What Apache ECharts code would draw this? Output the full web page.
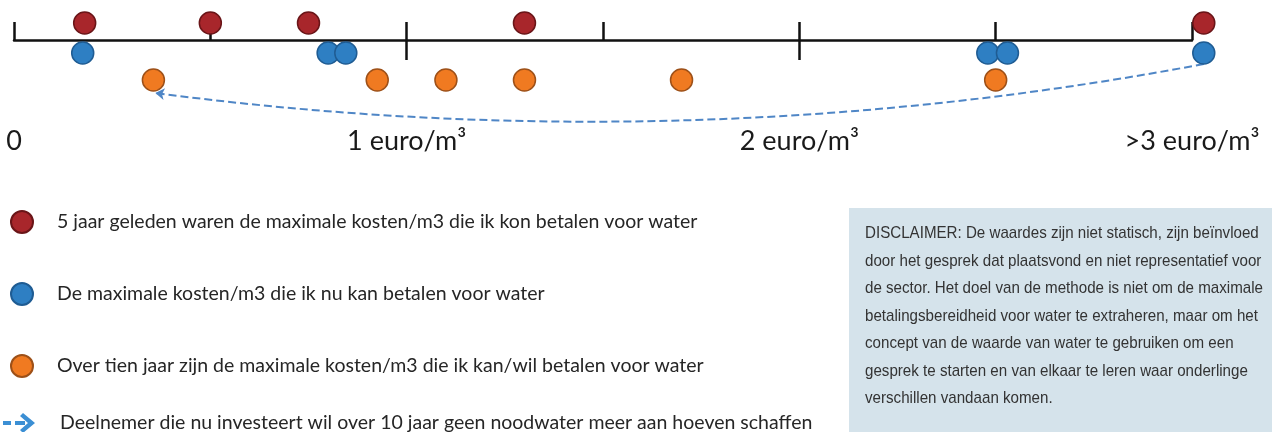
<!DOCTYPE html>
<html>
<head>
<meta charset="utf-8">
<script src="https://cdn.jsdelivr.net/npm/echarts@6/dist/echarts.min.js"></script>
<style>
html,body{margin:0;padding:0;background:#fff;}
#chart{width:1272px;height:432px;}
</style>
</head>
<body>
<div id="chart"></div>
<script>
// euro per m3, one dot per participant
var vijfJaarGeleden = [0.18, 0.50, 0.75, 1.30, 3.03];
var nu = [0.175, 0.80, 0.845, 2.48, 2.53, 3.03];
var overTienJaar = [0.355, 0.925, 1.10, 1.30, 1.70, 2.50];

var tickValues = [0, 1, 2, 3];
var tickLabels = ['0', '1 euro/m³', '2 euro/m³', '>3 euro/m³'];

var seriesNames = [
	'5 jaar geleden waren de maximale kosten/m3 die ik kon betalen voor water',
	'De maximale kosten/m3 die ik nu kan betalen voor water',
	'Over tien jaar zijn de maximale kosten/m3 die ik kan/wil betalen voor water',
	'Deelnemer die nu investeert wil over 10 jaar geen noodwater meer aan hoeven schaffen'
];

// verplaatsing van de ene deelnemer: nu (>3) -> over tien jaar
var pijlVan = [3.03, -2.4];
var pijlNaar = [0.36, -5.3];

var disclaimer = [
	'DISCLAIMER: De waardes zijn niet statisch, zijn beïnvloed',
	'door het gesprek dat plaatsvond en niet representatief voor',
	'de sector. Het doel van de methode is niet om de maximale',
	'betalingsbereidheid voor water te extraheren, maar om het',
	'concept van de waarde van water te gebruiken om een',
	'gesprek te starten en van elkaar te leren waar onderlinge',
	'verschillen vandaan komen.'
];

// rij-hoogtes (boven / onder de as)
var rijRood = 1.7, rijBlauw = -1.3, rijOranje = -4.0;

function punten(arr, rij){
	var out = [];
	for(var i=0;i<arr.length;i++){
		out.push([arr[i], rij]);
	}
	return out;
}

// disclaimer font is condensed; squeeze a normal sans to the same width
var dFont = '17px "Liberation Sans", Arial, sans-serif';
var ctx = document.createElement('canvas').getContext('2d');
ctx.font = dFont;
var breedste = 0;
disclaimer.forEach(function(r){ breedste = Math.max(breedste, ctx.measureText(r).width); });
var dSchaal = 398 / breedste;

var legendText = {fontSize: 19.5, lineHeight: 22, color: '#262626', fontFamily: 'Lato', padding: [0, 0, 0, 12]};

var myChart = echarts.init(document.getElementById('chart'));

var option = {
	animation: false,
	textStyle: {fontFamily: 'Lato'},
	grid: {left: 14, right: 80, top: 0, height: 130},
	xAxis: [
		{
			type: 'value',
			min: 0,
			max: 3,
			interval: 0.5,
			splitLine: {show: false},
			axisLine: {onZero: true, lineStyle: {color: '#111', width: 2.5}},
			axisTick: {inside: true, length: 18, lineStyle: {color: '#111', width: 2.5}},
			axisLabel: {show: false}
		},
		{
			type: 'value',
			position: 'bottom',
			min: 0,
			max: 3,
			interval: 0.5,
			splitLine: {show: false},
			axisLine: {show: false, onZero: false},
			axisTick: {show: false},
			axisLabel: {
				margin: -2,
				fontSize: 27,
				color: '#1a1a1a',
				fontFamily: 'Lato',
				formatter: function(v){
					var i = tickValues.indexOf(v);
					return i < 0 ? '' : tickLabels[i];
				}
			}
		}
	],
	yAxis: {type: 'value', min: -9, max: 4, show: false},
	legend: [
		{
			orient: 'vertical',
			left: 10,
			top: 210,
			padding: 0,
			itemWidth: 36,
			itemHeight: 22,
			itemGap: 48,
			selectedMode: false,
			textStyle: legendText,
			data: [
				{name: seriesNames[0], icon: 'circle'},
				{name: seriesNames[1], icon: 'circle'},
				{name: seriesNames[2], icon: 'circle'}
			]
		},
		{
			orient: 'vertical',
			left: 3,
			top: 412,
			padding: 0,
			itemWidth: 32,
			itemHeight: 22,
			selectedMode: false,
			textStyle: {fontSize: 19.5, lineHeight: 22, color: '#262626', fontFamily: 'Lato', padding: [0, 0, 0, 20]},
			data: [
				{name: seriesNames[3], icon: 'path://M0,8h8v4H0z M12,8h10v4H12z M20,0l12,10l-12,10l-3,-3l8,-7l-8,-7z',
					itemStyle: {color: '#3b8fd4', borderWidth: 0}}
			]
		}
	],
	series: [
		{
			name: seriesNames[0],
			type: 'scatter',
			clip: false,
			symbolSize: 22,
			itemStyle: {color: '#a8262b', borderColor: '#6a1518', borderWidth: 1.5, opacity: 1},
			data: punten(vijfJaarGeleden, rijRood),
			markLine: {
				silent: true,
				symbol: 'none',
				label: {show: false},
				lineStyle: {color: '#111', width: 2.5, type: 'solid'},
				data: [
					[{coord: [1, 0]}, {coord: [1, -2.0]}],
					[{coord: [2, 0]}, {coord: [2, -2.0]}]
				]
			}
		},
		{
			name: seriesNames[1],
			type: 'scatter',
			clip: false,
			symbolSize: 22,
			itemStyle: {color: '#2e7fc3', borderColor: '#1f5c93', borderWidth: 1.5, opacity: 1},
			data: punten(nu, rijBlauw)
		},
		{
			name: seriesNames[2],
			type: 'scatter',
			clip: false,
			symbolSize: 22,
			itemStyle: {color: '#f07a21', borderColor: '#9d5018', borderWidth: 1.5, opacity: 1},
			data: punten(overTienJaar, rijOranje)
		},
		{
			name: seriesNames[3],
			type: 'lines',
			coordinateSystem: 'cartesian2d',
			clip: false,
			symbol: ['none', 'arrow'],
			symbolSize: 9,
			lineStyle: {color: '#4f86c6', width: 2, type: [8, 4], curveness: 0.08, opacity: 1},
			itemStyle: {color: '#4f86c6'},
			data: [{coords: [pijlVan, pijlNaar]}]
		}
	],
	graphic: [
		{
			type: 'rect',
			left: 849,
			top: 208,
			shape: {width: 423, height: 224},
			style: {fill: '#d5e3eb'},
			silent: true
		},
		{
			type: 'text',
			x: 865,
			y: 220,
			scaleX: dSchaal,
			silent: true,
			style: {
				text: disclaimer.join('\n'),
				font: dFont,
				lineHeight: 27.5,
				fill: '#333'
			}
		}
	]
};

myChart.setOption(option);
</script>
</body>
</html>
